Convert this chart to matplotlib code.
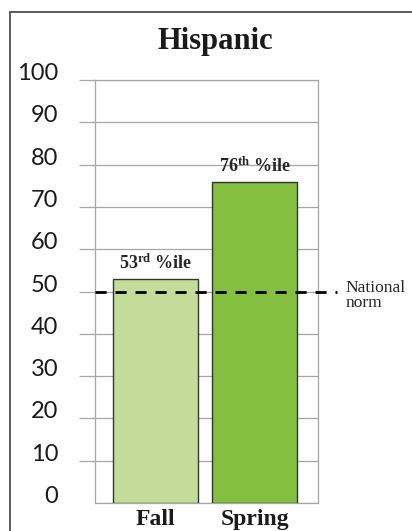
import matplotlib
matplotlib.use("Agg")
import matplotlib.pyplot as plt
import matplotlib.transforms as mtransforms
from matplotlib.patches import Rectangle

# data
title = "Hispanic"
categories = ["Fall", "Spring"]
values = [53, 76]
bar_labels = [r"53$^{\mathrm{rd}}$ %ile", r"76$^{\mathrm{th}}$ %ile"]
colors = ["#c3dc9a", "#84bf41"]
yticks = [0, 10, 20, 30, 40, 50, 60, 70, 80, 90, 100]
norm_value = 50
norm_label = "National\nnorm"

SERIF = ["Liberation Serif", "DejaVu Serif"]
SANS = ["Lato", "DejaVu Sans"]
GRID = "#a6a6a6"

# superscripts in the bar labels use the same bold serif
plt.rcParams["mathtext.fontset"] = "custom"
plt.rcParams["mathtext.rm"] = "Liberation Serif:bold"
plt.rcParams["mathtext.default"] = "rm"

fig = plt.figure(figsize=(4.12, 5.31), dpi=100)
ax = fig.add_axes([95 / 412, 28 / 531, 223 / 412, 423 / 531])

# outer frame (only left and top edges are visible in the crop)
fig.patches.append(Rectangle((9.5 / 412, -0.1), 1.2, 1.1 - 12.5 / 531,
                             transform=fig.transFigure, fill=False,
                             edgecolor="#404040", linewidth=1.2))

x = list(range(len(categories)))
bars = ax.bar(x, values, width=0.86, color=colors, edgecolor="#333333",
              linewidth=1.0, zorder=3)

for rect, lab in zip(bars, bar_labels):
    ax.annotate(lab, xy=(rect.get_x() + rect.get_width() / 2, rect.get_height()),
                xytext=(0, 7), textcoords="offset points", ha="center",
                va="baseline", fontsize=13, fontweight="bold", family=SERIF,
                color="#262626", zorder=4)

# national norm dashed line running past the right edge
blend = mtransforms.blended_transform_factory(ax.transAxes, ax.transData)
ax.plot([0, 1.087], [norm_value, norm_value], transform=blend, color="black",
        linewidth=2.0, dashes=(4, 3.2), clip_on=False, zorder=5)
ax.annotate(norm_label, xy=(1.122, norm_value), xycoords=blend,
            xytext=(0, 8.5), textcoords="offset points", ha="left", va="top",
            fontsize=12.5, family=SERIF, color="#262626", linespacing=0.95)

ax.set_xlim(-0.61, 1.64)
ax.set_ylim(0, 100)
ax.set_yticks(yticks)
ax.set_xticks(x)
ax.set_xticklabels(categories, fontsize=17, fontweight="bold", family=SERIF,
                   color="#1a1a1a")
ax.tick_params(axis="x", length=0, pad=4)
ax.tick_params(axis="y", length=11.5, width=0.9, color=GRID, pad=15,
               labelsize=17, labelcolor="#1a1a1a")
for t in ax.yaxis.get_major_ticks():
    t.label1.set_family(SANS)
    t.label1.set_verticalalignment("baseline")
ax.yaxis.get_major_ticks()[0].tick1line.set_visible(False)

ax.grid(axis="y", color=GRID, linewidth=0.9, zorder=0)
ax.set_axisbelow(True)
for s in ax.spines.values():
    s.set_color(GRID)
    s.set_linewidth(0.9)

fig.text(215 / 412, 1 - 42 / 531, title, ha="center", va="center",
         fontsize=22, fontweight="bold", family=SERIF, color="#1a1a1a")

fig.savefig("out.png", dpi=100)
